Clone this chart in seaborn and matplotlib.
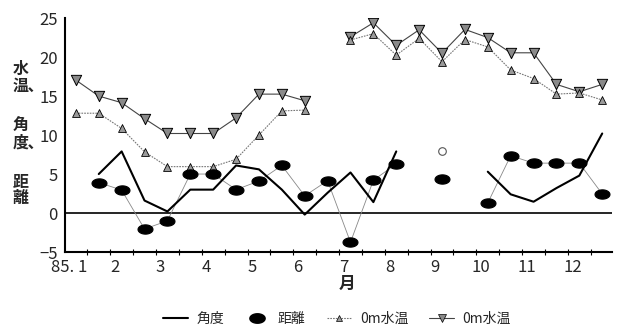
import numpy as np
import pandas as pd
import matplotlib
matplotlib.use("Agg")
import matplotlib.pyplot as plt
from matplotlib.path import Path
from matplotlib.lines import Line2D
import seaborn as sns

nan = np.nan

# sampling points (month + part of month), two per month
months_x = [1.15, 1.65, 2.15, 2.65, 3.15, 3.65, 4.15, 4.65, 5.15, 5.65, 6.15, 6.65,
            7.15, 7.65, 8.15, 8.65, 9.15, 9.65, 10.15, 10.65, 11.15, 11.65, 12.15, 12.65]
angle = [nan, 5.0, 7.9, 1.6, 0.2, 3.0, 3.0, 6.1, 5.6, 3.0, -0.2, 2.6,
         5.2, 1.4, 7.9, nan, 7.9, nan, 5.3, 2.4, 1.45, 3.2, 4.8, 10.2]
distance = [nan, 3.9, 2.95, -2.05, -1.0, 5.0, 5.0, 3.0, 4.1, 6.1, 2.2, 4.15,
            -3.75, 4.2, 6.3, nan, 4.3, nan, 1.3, 7.35, 6.4, 6.4, 6.4, 2.45]
temp_a = [12.8, 12.8, 10.85, 7.85, 5.95, 5.95, 5.95, 6.9, 10.0, 13.1, 13.2, nan,
          22.2, 23.0, 20.25, 22.4, 19.4, 22.25, 21.3, 18.35, 17.25, 15.25, 15.4, 14.5]
temp_b = [17.05, 15.0, 14.15, 12.1, 10.2, 10.2, 10.2, 12.2, 15.25, 15.25, 14.4, nan,
          22.6, 24.4, 21.5, 23.5, 20.5, 23.55, 22.5, 20.55, 20.55, 16.5, 15.55, 16.5]

month_ticks = [1, 2, 3, 4, 5, 6, 7, 8, 9, 10, 11, 12]
month_labels = ["85. 1", "2", "3", "4", "5", "6", "7", "8", "9", "10", "11", "12"]
ylabel_parts = ["水\n温､", "角\n度､", "距\n離"]

df = pd.DataFrame({"x": months_x, "angle": angle, "distance": distance,
                   "temp_a": temp_a, "temp_b": temp_b})

sns.set_theme(style="white")
plt.rcParams["font.family"] = ["Liberation Sans Narrow", "Noto Sans CJK JP", "DejaVu Sans"]

# flat ellipse marker for distance
t = np.linspace(0, 2 * np.pi, 40)
ellipse = Path(np.column_stack([np.cos(t), 0.62 * np.sin(t)]), closed=True)

fig = plt.figure(figsize=(6.18, 3.29), dpi=100)
ax = fig.add_axes([0.105, 0.234, 0.885, 0.711])

# water temperature series
ax.plot(df["x"], df["temp_b"], color="#444444", lw=0.8, zorder=2)
sns.scatterplot(data=df, x="x", y="temp_b", marker="v", s=55, color="#8a8a8a",
                edgecolor="black", linewidth=0.7, ax=ax, zorder=3)
ax.plot(df["x"], df["temp_a"], color="#777777", lw=0.8, ls=(0, (1.5, 1)), zorder=2)
sns.scatterplot(data=df, x="x", y="temp_a", marker="^", s=32, color="#9a9a9a",
                edgecolor="black", linewidth=0.6, ax=ax, zorder=3)

# distance
ax.plot(df["x"], df["distance"], color="#888888", lw=0.6, zorder=2)
sns.scatterplot(data=df, x="x", y="distance", marker=ellipse, s=115, color="black",
                edgecolor="black", ax=ax, zorder=4)

# angle
ax.plot(df["x"], df["angle"], color="black", lw=1.5, zorder=5)
a = df["angle"].values
isolated = [i for i in range(len(a)) if not np.isnan(a[i])
            and (i == 0 or np.isnan(a[i - 1])) and (i == len(a) - 1 or np.isnan(a[i + 1]))]
sns.scatterplot(x=df["x"].iloc[isolated], y=df["angle"].iloc[isolated], marker="o", s=30,
                facecolor="white", edgecolor="#555555", linewidth=0.8, ax=ax, zorder=5)

ax.axhline(0, color="black", lw=1.2, zorder=1)

ax.set_xlim(0.91, 12.86)
ax.set_ylim(-5, 25)
ax.set_yticks([-5, 0, 5, 10, 15, 20, 25])
ax.set_xticks(month_ticks)
ax.set_xticklabels(month_labels)
ax.set_xticks(np.arange(1.4, 12.9, 0.5), minor=True)
ax.tick_params(axis="x", which="major", length=0, pad=5, labelsize=12)
ax.tick_params(axis="x", which="minor", length=4, direction="inout", width=0.8, color="black", bottom=True)
ax.tick_params(axis="y", length=0, pad=5, labelsize=12)
for side in ["top", "right"]:
    ax.spines[side].set_visible(False)
for side in ["left", "bottom"]:
    ax.spines[side].set_color("black")
    ax.spines[side].set_linewidth(1.5)
ax.set_xlabel("月", fontsize=12, family=["Noto Sans CJK JP"], fontweight="bold")
ax.xaxis.set_label_coords(0.515, -0.1)
ax.set_ylabel("")

# stacked vertical y label, three groups
for part, ytop in zip(ylabel_parts, [0.815, 0.643, 0.472]):
    fig.text(0.02, ytop, part, fontsize=11.5, fontweight="bold",
             family=["Noto Sans CJK JP"], ha="left", va="top", linespacing=1.05)

handles = [
    Line2D([], [], color="black", lw=1.5),
    Line2D([], [], color="black", lw=0, marker=ellipse, markersize=11),
    Line2D([], [], color="#777777", lw=0.8, ls=(0, (1.5, 1)), marker="^", markersize=5,
           markerfacecolor="#9a9a9a", markeredgecolor="black", markeredgewidth=0.5),
    Line2D([], [], color="#444444", lw=0.8, marker="v", markersize=6,
           markerfacecolor="#8a8a8a", markeredgecolor="black", markeredgewidth=0.5),
]
fig.legend(handles, ["角度", "距離", "0m水温", "0m水温"], loc="center", ncol=4,
           bbox_to_anchor=(0.545, 0.03), frameon=False, handlelength=1.8,
           columnspacing=1.5, handletextpad=0.6,
           prop={"family": ["Noto Sans CJK JP"], "size": 10})

fig.savefig("out.png", dpi=100)
